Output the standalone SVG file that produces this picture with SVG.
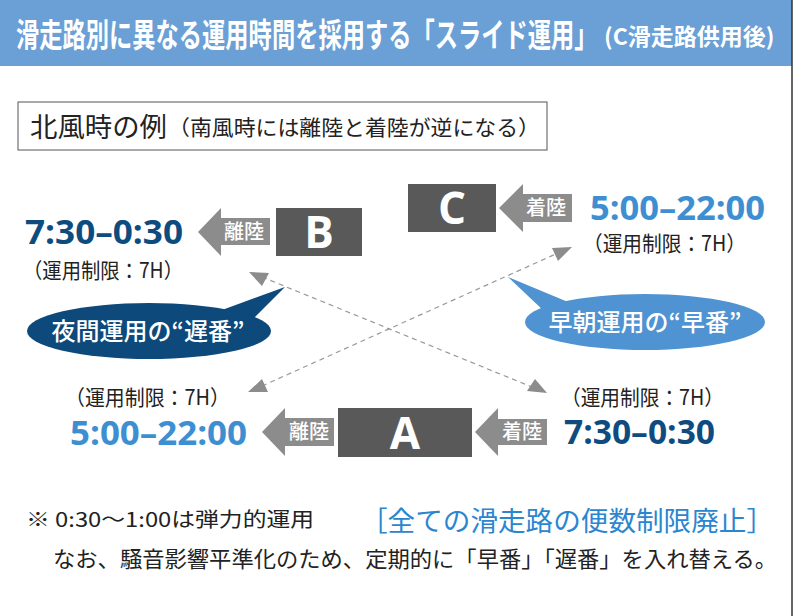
<svg xmlns="http://www.w3.org/2000/svg" width="800" height="616" viewBox="0 0 800 616">
<style>
.jp{font-family:"Noto Sans CJK JP","Noto Sans",sans-serif}
.box{fill:#595959}
.arw{fill:#8c8c8c}
.lbl{font-family:"Noto Sans CJK JP",sans-serif;font-size:20px;fill:#fff;text-anchor:middle;font-weight:500}
.let{font-family:"Open Sans","Liberation Sans",sans-serif;font-weight:700;font-size:44px;fill:#fff;text-anchor:middle}
.tm{font-family:"Open Sans","Liberation Sans",sans-serif;font-weight:700;font-size:34px}
.dk{fill:#0e4c80}
.lt{fill:#3d8fd1}
.lim{font-family:"Noto Sans CJK JP",sans-serif;font-size:21px;fill:#222}
.dash{stroke:#999;stroke-width:1.2;stroke-dasharray:5 4;fill:none}
.ah{fill:#8c8c8c}
.call{font-family:"Noto Sans CJK JP",sans-serif;font-size:24px;fill:#fff;text-anchor:middle;font-weight:500}
.hd{font-family:"Noto Sans CJK JP","Noto Sans",sans-serif;font-weight:700;fill:#fff}
</style>
<rect width="800" height="616" fill="#fff"/>
<g id="header">
<rect x="0" y="0" width="792" height="66" fill="#6aa0d5"/>
<text class="hd" transform="translate(16,47) scale(0.705,1)" x="0" y="0" font-size="33">滑走路別に異なる運用時間を採用する「スライド運用」</text>
<text class="hd" x="604" y="45" font-size="23">(C滑走路供用後)</text>
</g>
<line x1="792" y1="0" x2="792" y2="616" stroke="#333" stroke-width="1.5"/>
<g id="note-box">
<rect x="18" y="102" width="529" height="48" fill="#fff" stroke="#555" stroke-width="1"/>
<text class="jp" x="30" y="137" font-size="27" fill="#222" textLength="137" lengthAdjust="spacingAndGlyphs">北風時の例</text>
<text class="jp" x="168" y="135" font-size="21" fill="#222" textLength="372" lengthAdjust="spacingAndGlyphs">（南風時には離陸と着陸が逆になる）</text>
</g>
<g id="connectors">
<line class="dash" x1="262" y1="277" x2="532" y2="387"/>
<polygon class="ah" points="249,272 269,273 262,286"/>
<polygon class="ah" points="547,393 527,391 535,379"/>
<line class="dash" x1="262" y1="386" x2="558" y2="253"/>
<polygon class="ah" points="248,392 262,379 268,392"/>
<polygon class="ah" points="572,247 552,248 558,261"/>
</g>
<g id="runway-B">
<rect class="box" x="276" y="208" width="86" height="48"/>
<text class="let" x="319" y="248">B</text>
<polygon class="arw" points="198,232 221,208 221,218 270,218 270,245 221,245 221,256"/>
<text class="lbl" x="244" y="239">離陸</text>
<text class="tm dk" x="25" y="244" textLength="158" lengthAdjust="spacingAndGlyphs">7:30–0:30</text>
<text class="lim" x="23" y="278" textLength="160" lengthAdjust="spacingAndGlyphs">（運用制限：7H）</text>
</g>
<g id="runway-C">
<rect class="box" x="408" y="184" width="88" height="48"/>
<text class="let" x="452" y="224">C</text>
<polygon class="arw" points="499,208 523,184 523,194 572,194 572,222 523,222 523,232"/>
<text class="lbl" x="546" y="215">着陸</text>
<text class="tm lt" x="590" y="220" textLength="175" lengthAdjust="spacingAndGlyphs">5:00–22:00</text>
<text class="lim" x="583" y="251" textLength="163" lengthAdjust="spacingAndGlyphs">（運用制限：7H）</text>
</g>
<g id="runway-A">
<rect class="box" x="338" y="408" width="134" height="49"/>
<text class="let" x="405" y="449">A</text>
<polygon class="arw" points="262,432 285,408 285,418 334,418 334,446 285,446 285,456"/>
<text class="lbl" x="309" y="439">離陸</text>
<polygon class="arw" points="475,432 498,408 498,419 547,419 547,445 498,445 498,456"/>
<text class="lbl" x="522" y="439">着陸</text>
<text class="lim" x="65" y="405" textLength="165" lengthAdjust="spacingAndGlyphs">（運用制限：7H）</text>
<text class="tm lt" x="70" y="445" textLength="177" lengthAdjust="spacingAndGlyphs">5:00–22:00</text>
<text class="lim" x="561" y="405" textLength="163" lengthAdjust="spacingAndGlyphs">（運用制限：7H）</text>
<text class="tm dk" x="564" y="444" textLength="151" lengthAdjust="spacingAndGlyphs">7:30–0:30</text>
</g>
<g id="callout-late">
<polygon points="222,310 285,287 252,320" fill="#0d4a7b"/>
<ellipse cx="149" cy="331" rx="122" ry="28" fill="#0d4a7b"/>
<text class="call" x="148" y="340">夜間運用の“遅番”</text>
</g>
<g id="callout-early">
<polygon points="508,277 568,302 545,312" fill="#4f93d2"/>
<ellipse cx="645" cy="322" rx="120" ry="28" fill="#4f93d2"/>
<text class="call" x="645" y="331">早朝運用の“早番”</text>
</g>
<g id="footer">
<text class="jp" x="26" y="527" font-size="20" fill="#222" textLength="288" lengthAdjust="spacingAndGlyphs">※ 0:30〜1:00は弾力的運用</text>
<text class="jp" x="360" y="531" font-size="27" fill="#2b86d0" textLength="414" lengthAdjust="spacingAndGlyphs">［全ての滑走路の便数制限廃止］</text>
<text class="jp" x="53" y="567" font-size="22" fill="#222" textLength="724" lengthAdjust="spacingAndGlyphs">なお、騒音影響平準化のため、定期的に「早番」「遅番」を入れ替える。</text>
</g>
</svg>
